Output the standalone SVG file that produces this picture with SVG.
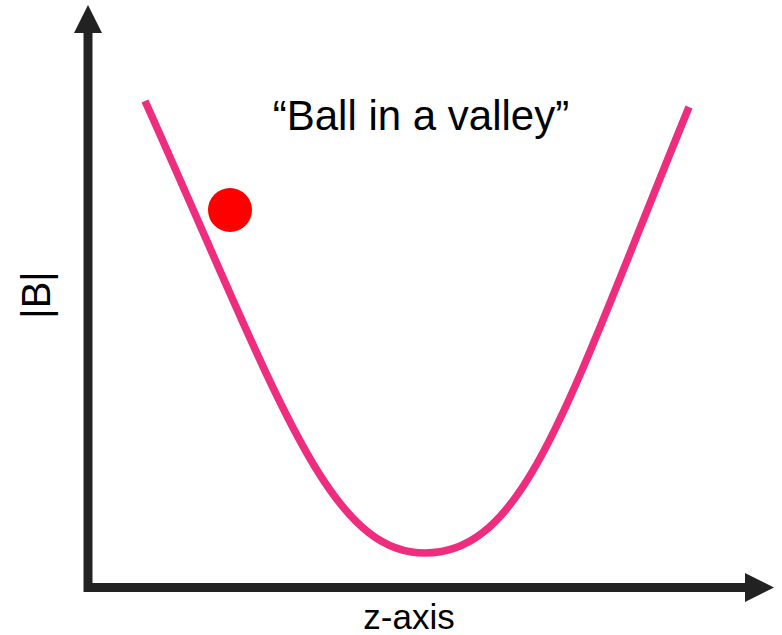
<svg xmlns="http://www.w3.org/2000/svg" width="782" height="635" viewBox="0 0 782 635">
<style>
.axis{fill:none;stroke:#222222;stroke-width:9;stroke-linejoin:miter;stroke-linecap:butt}
.head{fill:#222222}
.lbl{font-family:"Liberation Sans",Arial,sans-serif;fill:#000000}
.curve{fill:none;stroke:#ee2d7f;stroke-width:7.5;stroke-linecap:butt}
</style>
<rect width="782" height="635" fill="#ffffff"/>
<g id="axes">
<path class="axis" d="M88,33 V587.5 H745"/>
<polygon class="head" points="74,33 102,33 88,5"/>
<polygon class="head" points="745,573 745,602 774,587.5"/>
</g>
<g id="curve">
<path class="curve" d="M145,101 C280,401 328,553 425,553 C525,553 566,407 689,107"/>
</g>
<g id="ball">
<circle cx="230" cy="210" r="22" fill="#ff0000"/>
</g>
<g id="labels">
<text class="lbl" x="421" y="130" font-size="42" text-anchor="middle">“Ball in a valley”</text>
<text class="lbl" font-size="40" text-anchor="middle" transform="translate(50,295) rotate(-90)">|B|</text>
<text class="lbl" x="409" y="629" font-size="35" text-anchor="middle">z-axis</text>
</g>
</svg>
